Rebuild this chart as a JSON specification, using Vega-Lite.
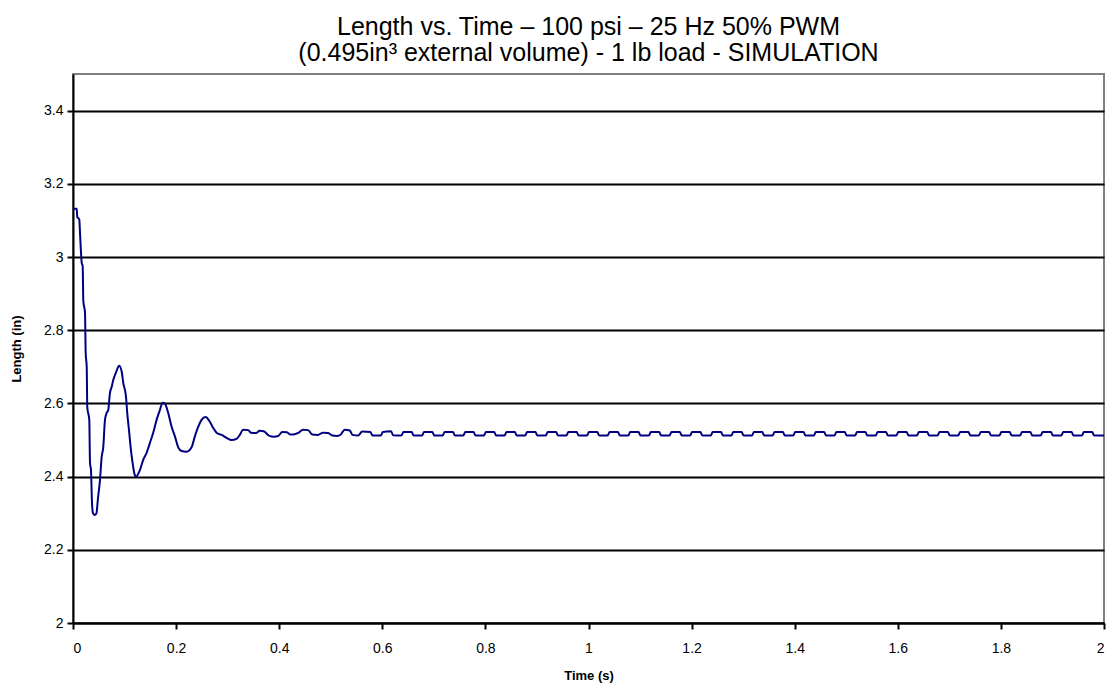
{
  "$schema": "https://vega.github.io/schema/vega-lite/v6.json",
  "width": 1031,
  "height": 549,
  "autosize": {"type": "none"},
  "padding": {"left": 73, "top": 74, "right": 10, "bottom": 66},
  "background": "white",
  "title": {
    "text": ["Length vs. Time – 100 psi – 25 Hz 50% PWM", "(0.495in³ external volume) - 1 lb load - SIMULATION"],
    "font": "Liberation Sans",
    "fontSize": 25,
    "fontWeight": "normal",
    "color": "black",
    "lineHeight": 26,
    "anchor": "middle",
    "offset": 8
  },
  "config": {
    "view": {"stroke": "#808080", "strokeWidth": 2},
    "axis": {
      "domainColor": "black",
      "domainWidth": 2,
      "tickColor": "black",
      "tickWidth": 2,
      "tickSize": 6,
      "labelFont": "Liberation Sans",
      "labelFontSize": 14,
      "labelColor": "black",
      "titleFont": "Liberation Sans",
      "titleFontSize": 13,
      "titleFontWeight": "bold",
      "titleColor": "black"
    }
  },
  "data": {
    "values": [
      {"t": 0.0, "v": 3.132}, {"t": 0.0072, "v": 3.132}, {"t": 0.0083, "v": 3.109}, {"t": 0.0122, "v": 3.103},
      {"t": 0.0136, "v": 3.066}, {"t": 0.0169, "v": 2.984}, {"t": 0.0188, "v": 2.975}, {"t": 0.020, "v": 2.88},
      {"t": 0.0233, "v": 2.848}, {"t": 0.0246, "v": 2.738}, {"t": 0.0266, "v": 2.70}, {"t": 0.0277, "v": 2.59},
      {"t": 0.0316, "v": 2.555}, {"t": 0.033, "v": 2.437}, {"t": 0.0349, "v": 2.418}, {"t": 0.0368, "v": 2.33},
      {"t": 0.0388, "v": 2.30}, {"t": 0.0426, "v": 2.295}, {"t": 0.0455, "v": 2.30}, {"t": 0.0484, "v": 2.34},
      {"t": 0.0523, "v": 2.39}, {"t": 0.0556, "v": 2.454}, {"t": 0.0587, "v": 2.48}, {"t": 0.062, "v": 2.555},
      {"t": 0.0653, "v": 2.574}, {"t": 0.0684, "v": 2.582}, {"t": 0.0717, "v": 2.629}, {"t": 0.075, "v": 2.645},
      {"t": 0.0781, "v": 2.664}, {"t": 0.0833, "v": 2.684}, {"t": 0.0878, "v": 2.70}, {"t": 0.0897, "v": 2.703},
      {"t": 0.0944, "v": 2.687}, {"t": 0.0975, "v": 2.656}, {"t": 0.1027, "v": 2.62}, {"t": 0.1052, "v": 2.574},
      {"t": 0.1091, "v": 2.52}, {"t": 0.1118, "v": 2.48}, {"t": 0.1157, "v": 2.437}, {"t": 0.1188, "v": 2.41},
      {"t": 0.1221, "v": 2.40}, {"t": 0.1298, "v": 2.418}, {"t": 0.1362, "v": 2.446}, {"t": 0.1428, "v": 2.465},
      {"t": 0.1492, "v": 2.492}, {"t": 0.1556, "v": 2.52}, {"t": 0.1622, "v": 2.555}, {"t": 0.1686, "v": 2.582},
      {"t": 0.1738, "v": 2.602}, {"t": 0.1783, "v": 2.599}, {"t": 0.1847, "v": 2.574}, {"t": 0.1913, "v": 2.536},
      {"t": 0.1977, "v": 2.51}, {"t": 0.2041, "v": 2.48}, {"t": 0.2107, "v": 2.47}, {"t": 0.2203, "v": 2.468},
      {"t": 0.23, "v": 2.48}, {"t": 0.2364, "v": 2.51}, {"t": 0.2428, "v": 2.536}, {"t": 0.2494, "v": 2.555},
      {"t": 0.2572, "v": 2.563}, {"t": 0.2655, "v": 2.55}, {"t": 0.2719, "v": 2.533}, {"t": 0.2785, "v": 2.52},
      {"t": 0.2882, "v": 2.514}, {"t": 0.2979, "v": 2.506}, {"t": 0.3076, "v": 2.50}, {"t": 0.3172, "v": 2.503},
      {"t": 0.3236, "v": 2.514}, {"t": 0.330, "v": 2.528}, {"t": 0.340, "v": 2.527}, {"t": 0.345, "v": 2.52},
      {"t": 0.355, "v": 2.519}, {"t": 0.362, "v": 2.525}, {"t": 0.370, "v": 2.524}, {"t": 0.380, "v": 2.512},
      {"t": 0.390, "v": 2.509}, {"t": 0.398, "v": 2.511}, {"t": 0.406, "v": 2.522}, {"t": 0.415, "v": 2.521},
      {"t": 0.422, "v": 2.515}, {"t": 0.430, "v": 2.516}, {"t": 0.438, "v": 2.520}, {"t": 0.446, "v": 2.528},
      {"t": 0.456, "v": 2.527}, {"t": 0.464, "v": 2.515}, {"t": 0.475, "v": 2.514}, {"t": 0.485, "v": 2.520},
      {"t": 0.495, "v": 2.519}, {"t": 0.503, "v": 2.512}, {"t": 0.512, "v": 2.511}, {"t": 0.520, "v": 2.516},
      {"t": 0.527, "v": 2.528}, {"t": 0.537, "v": 2.526}, {"t": 0.542, "v": 2.514}, {"t": 0.553, "v": 2.512},
      {"t": 0.561, "v": 2.523}, {"t": 0.577, "v": 2.522}, {"t": 0.581, "v": 2.512}, {"t": 0.597, "v": 2.512},
      {"t": 0.601, "v": 2.522}, {"t": 0.617, "v": 2.524}, {"t": 0.621, "v": 2.513}, {"t": 0.637, "v": 2.512},
      {"t": 0.641, "v": 2.522}, {"t": 0.657, "v": 2.522}, {"t": 0.661, "v": 2.512}, {"t": 0.677, "v": 2.512},
      {"t": 0.681, "v": 2.522}, {"t": 0.697, "v": 2.522}, {"t": 0.701, "v": 2.512}, {"t": 0.717, "v": 2.512},
      {"t": 0.721, "v": 2.522}, {"t": 0.737, "v": 2.522}, {"t": 0.741, "v": 2.512}, {"t": 0.757, "v": 2.512},
      {"t": 0.761, "v": 2.522}, {"t": 0.777, "v": 2.522}, {"t": 0.781, "v": 2.512}, {"t": 0.797, "v": 2.512},
      {"t": 0.801, "v": 2.522}, {"t": 0.817, "v": 2.522}, {"t": 0.821, "v": 2.512}, {"t": 0.837, "v": 2.512},
      {"t": 0.841, "v": 2.522}, {"t": 0.857, "v": 2.522}, {"t": 0.861, "v": 2.512}, {"t": 0.877, "v": 2.512},
      {"t": 0.881, "v": 2.522}, {"t": 0.897, "v": 2.522}, {"t": 0.901, "v": 2.512}, {"t": 0.917, "v": 2.512},
      {"t": 0.921, "v": 2.522}, {"t": 0.937, "v": 2.522}, {"t": 0.941, "v": 2.512}, {"t": 0.957, "v": 2.512},
      {"t": 0.961, "v": 2.522}, {"t": 0.977, "v": 2.522}, {"t": 0.981, "v": 2.512}, {"t": 0.997, "v": 2.512},
      {"t": 1.001, "v": 2.522}, {"t": 1.017, "v": 2.522}, {"t": 1.021, "v": 2.512}, {"t": 1.037, "v": 2.512},
      {"t": 1.041, "v": 2.522}, {"t": 1.057, "v": 2.522}, {"t": 1.061, "v": 2.512}, {"t": 1.077, "v": 2.512},
      {"t": 1.081, "v": 2.522}, {"t": 1.097, "v": 2.522}, {"t": 1.101, "v": 2.512}, {"t": 1.117, "v": 2.512},
      {"t": 1.121, "v": 2.522}, {"t": 1.137, "v": 2.522}, {"t": 1.141, "v": 2.512}, {"t": 1.157, "v": 2.512},
      {"t": 1.161, "v": 2.522}, {"t": 1.177, "v": 2.522}, {"t": 1.181, "v": 2.512}, {"t": 1.197, "v": 2.512},
      {"t": 1.201, "v": 2.522}, {"t": 1.217, "v": 2.522}, {"t": 1.221, "v": 2.512}, {"t": 1.237, "v": 2.512},
      {"t": 1.241, "v": 2.522}, {"t": 1.257, "v": 2.522}, {"t": 1.261, "v": 2.512}, {"t": 1.277, "v": 2.512},
      {"t": 1.281, "v": 2.522}, {"t": 1.297, "v": 2.522}, {"t": 1.301, "v": 2.512}, {"t": 1.317, "v": 2.512},
      {"t": 1.321, "v": 2.522}, {"t": 1.337, "v": 2.522}, {"t": 1.341, "v": 2.512}, {"t": 1.357, "v": 2.512},
      {"t": 1.361, "v": 2.522}, {"t": 1.377, "v": 2.522}, {"t": 1.381, "v": 2.512}, {"t": 1.397, "v": 2.512},
      {"t": 1.401, "v": 2.522}, {"t": 1.417, "v": 2.522}, {"t": 1.421, "v": 2.512}, {"t": 1.437, "v": 2.512},
      {"t": 1.441, "v": 2.522}, {"t": 1.457, "v": 2.522}, {"t": 1.461, "v": 2.512}, {"t": 1.477, "v": 2.512},
      {"t": 1.481, "v": 2.522}, {"t": 1.497, "v": 2.522}, {"t": 1.501, "v": 2.512}, {"t": 1.517, "v": 2.512},
      {"t": 1.521, "v": 2.522}, {"t": 1.537, "v": 2.522}, {"t": 1.541, "v": 2.512}, {"t": 1.557, "v": 2.512},
      {"t": 1.561, "v": 2.522}, {"t": 1.577, "v": 2.522}, {"t": 1.581, "v": 2.512}, {"t": 1.597, "v": 2.512},
      {"t": 1.601, "v": 2.522}, {"t": 1.617, "v": 2.522}, {"t": 1.621, "v": 2.512}, {"t": 1.637, "v": 2.512},
      {"t": 1.641, "v": 2.522}, {"t": 1.657, "v": 2.522}, {"t": 1.661, "v": 2.512}, {"t": 1.677, "v": 2.512},
      {"t": 1.681, "v": 2.522}, {"t": 1.697, "v": 2.522}, {"t": 1.701, "v": 2.512}, {"t": 1.717, "v": 2.512},
      {"t": 1.721, "v": 2.522}, {"t": 1.737, "v": 2.522}, {"t": 1.741, "v": 2.512}, {"t": 1.757, "v": 2.512},
      {"t": 1.761, "v": 2.522}, {"t": 1.777, "v": 2.522}, {"t": 1.781, "v": 2.512}, {"t": 1.797, "v": 2.512},
      {"t": 1.801, "v": 2.522}, {"t": 1.817, "v": 2.522}, {"t": 1.821, "v": 2.512}, {"t": 1.837, "v": 2.512},
      {"t": 1.841, "v": 2.522}, {"t": 1.857, "v": 2.522}, {"t": 1.861, "v": 2.512}, {"t": 1.877, "v": 2.512},
      {"t": 1.881, "v": 2.522}, {"t": 1.897, "v": 2.522}, {"t": 1.901, "v": 2.512}, {"t": 1.917, "v": 2.512},
      {"t": 1.921, "v": 2.522}, {"t": 1.937, "v": 2.522}, {"t": 1.941, "v": 2.512}, {"t": 1.957, "v": 2.512},
      {"t": 1.961, "v": 2.522}, {"t": 1.977, "v": 2.522}, {"t": 1.981, "v": 2.512}, {"t": 1.997, "v": 2.512},
      {"t": 2.0, "v": 2.512}
    ]
  },
  "mark": {"type": "line", "color": "#000080", "strokeWidth": 2, "clip": true, "interpolate": "monotone"},
  "encoding": {
    "x": {
      "field": "t",
      "type": "quantitative",
      "scale": {"domain": [0, 2], "nice": false, "zero": false},
      "axis": {
        "title": "Time (s)",
        "values": [0, 0.2, 0.4, 0.6, 0.8, 1, 1.2, 1.4, 1.6, 1.8, 2],
        "format": "~g",
        "grid": false,
        "labelPadding": 12,
        "titlePadding": 14
      }
    },
    "y": {
      "field": "v",
      "type": "quantitative",
      "scale": {"domain": [2, 3.5], "nice": false, "zero": false},
      "axis": {
        "title": "Length (in)",
        "values": [2, 2.2, 2.4, 2.6, 2.8, 3, 3.2, 3.4],
        "format": "~g",
        "grid": true,
        "gridColor": "black",
        "gridWidth": 2,
        "labelPadding": 4,
        "titlePadding": 20
      }
    }
  }
}
